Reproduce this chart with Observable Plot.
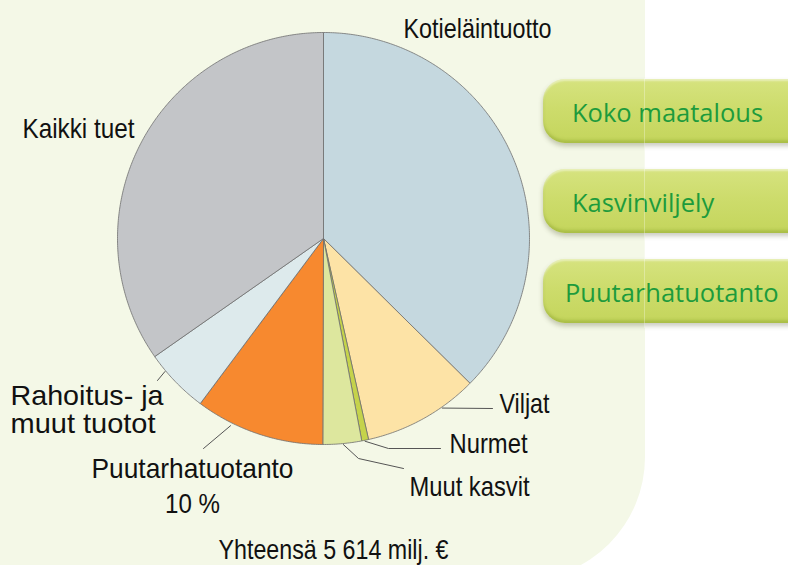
<!DOCTYPE html>
<html>
<head>
<meta charset="utf-8">
<script src="https://cdn.jsdelivr.net/npm/d3@7"></script>
<script src="https://cdn.jsdelivr.net/npm/@observablehq/plot@0.6"></script>
<style>
  html, body { margin: 0; padding: 0; background: #ffffff; }
  #wrap { position: relative; width: 788px; height: 565px; overflow: hidden; background: #ffffff; }
  #panel { position: absolute; left: 0; top: 0; width: 645px; height: 580px; background: #f4f8e7; border-bottom-right-radius: 123px; }
  .btn { position: absolute; left: 543px; width: 290px; height: 64px; border-radius: 22px;
         background: linear-gradient(#d6e37f 0%, #cddc6c 45%, #c4d55c 100%);
         box-shadow: 0 3px 5px rgba(60,70,20,0.28), inset 0 -3px 3px rgba(120,145,30,0.35), inset 0 2px 2px rgba(255,255,255,0.45);
         color: #1d9b3c; font-family: "Open Sans", "Noto Sans", sans-serif; font-size: 25.5px; white-space: nowrap; }
  .btn span { position: absolute; top: 0; line-height: 66px; }
  #chart { position: absolute; left: 0; top: 0; }
  #seam { position: absolute; left: 644px; top: 78px; width: 1px; height: 250px; background: rgba(255,255,255,0.3); }
</style>
</head>
<body>
<div id="wrap">
  <div id="panel"></div>
  <div class="btn" style="top:79px"><span style="left:29px">Koko maatalous</span></div>
  <div class="btn" style="top:169px"><span style="left:29px">Kasvinviljely</span></div>
  <div class="btn" style="top:259px"><span style="left:22px">Puutarhatuotanto</span></div>
  <div id="seam"></div>
  <div id="chart"></div>
</div>
<script>
// ---- data (milj. €), clockwise from 12 o'clock ----
const categories = ["Kotieläintuotto", "Viljat", "Nurmet", "Muut kasvit", "Puutarhatuotanto", "Rahoitus- ja muut tuotot", "Kaikki tuet"];
const values = [2100, 510, 30, 170, 570, 285, 1949];
const totalLabel = "Yhteensä 5 614 milj. €";
const puutarhaShare = "10 %";

// ---- styles ----
const sliceColors = ["#c5d8df", "#fde3a6", "#c5d34b", "#dde79e", "#f7892f", "#ddeaec", "#c3c5c8"];

// ---- layout (pixels) ----
const W = 788, H = 565;
const cx = 323, cy = 238, R = 206;
const font = "'Liberation Sans', Arial, sans-serif";
// rendered widths of the label lines (the reference uses a condensed face)
const textWidths = {
  "Kotieläintuotto": 148, "Kaikki tuet": 112, "Viljat": 50, "Nurmet": 78, "Muut kasvit": 120,
  "Yhteensä 5 614 milj. €": 230, "Rahoitus- ja": 153, "muut tuotot": 145, "Puutarhatuotanto": 202, "10 %": 55
};

const pie = d3.pie().sort(null).value(d => d.value)(categories.map((name, i) => ({name, value: values[i]})));
const pt = (a, r) => [cx + r * Math.sin(a), cy - r * Math.cos(a)];

// slice outlines: centre -> arc -> centre
const slicePts = [];
for (const s of pie) {
  const n = Math.max(2, Math.ceil((s.endAngle - s.startAngle) / (Math.PI / 360)));
  slicePts.push({name: s.data.name, x: cx, y: cy});
  for (let k = 0; k <= n; k++) {
    const a = s.startAngle + (s.endAngle - s.startAngle) * k / n;
    const [x, y] = pt(a, R);
    slicePts.push({name: s.data.name, x, y});
  }
  slicePts.push({name: s.data.name, x: cx, y: cy});
}

// leader lines: start on the pie edge at a given angle (deg), then elbows
const leaderSpec = [
  {name: "Viljat", deg: 145, r: 207, pts: [[492, 408]]},
  {name: "Nurmet", deg: 168.4, r: 207, pts: [[388, 448], [440, 448]]},
  {name: "Muut kasvit", deg: 174.5, r: 207, pts: [[358, 458], [403, 468]]},
  {name: "Puutarhatuotanto", deg: 206.4, r: 209, pts: [[203, 448]]},
  {name: "Rahoitus", deg: 230, r: 207, pts: [[157, 380]]}
];
const leaderPts = [];
for (const l of leaderSpec) {
  const [x0, y0] = pt(l.deg * Math.PI / 180, l.r);
  leaderPts.push({name: l.name, x: x0, y: y0});
  for (const [x, y] of l.pts) leaderPts.push({name: l.name, x, y});
}

const startLabels = [
  {text: categories[0], x: 403, y: 37},
  {text: categories[6], x: 22, y: 137},
  {text: categories[1], x: 499, y: 412},
  {text: categories[2], x: 449, y: 452},
  {text: categories[3], x: 409, y: 495}
];
const totalText = [{text: totalLabel, x: 333, y: 558}];
const rahoitusLabel = [{text: "Rahoitus- ja\nmuut tuotot", x: 10, y: 432}];
const puutarhaLabel = [{text: categories[4] + "\n" + puutarhaShare, x: 192, y: 512}];

const chart = Plot.plot({
  width: W, height: H, margin: 0,
  style: {background: "transparent", overflow: "visible"},
  x: {domain: [0, W], range: [0, W], axis: null},
  y: {domain: [0, H], range: [0, H], axis: null},
  color: {domain: categories, range: sliceColors},
  marks: [
    Plot.line(slicePts, {x: "x", y: "y", z: "name", fill: "name", stroke: "#6e6e6e", strokeWidth: 0.8, strokeLinejoin: "round", curve: "linear"}),
    Plot.line(leaderPts, {x: "x", y: "y", z: "name", stroke: "#555", strokeWidth: 1, curve: "linear"}),
    Plot.text(startLabels, {x: "x", y: "y", text: "text", textAnchor: "start", lineAnchor: "bottom", fontSize: 28, fontFamily: font, fill: "#111"}),
    Plot.text(totalText, {x: "x", y: "y", text: "text", textAnchor: "middle", lineAnchor: "bottom", fontSize: 28, fontFamily: font, fill: "#111"}),
    Plot.text(rahoitusLabel, {x: "x", y: "y", text: "text", textAnchor: "start", lineAnchor: "bottom", lineHeight: 0.97, fontSize: 28, fontFamily: font, fill: "#111"}),
    Plot.text(puutarhaLabel, {x: "x", y: "y", text: "text", textAnchor: "middle", lineAnchor: "bottom", lineHeight: 1.24, fontSize: 28, fontFamily: font, fill: "#111"})
  ]
});

// condense label glyphs to the reference widths
for (const t of chart.querySelectorAll("text")) {
  const spans = t.querySelectorAll("tspan");
  const targets = spans.length ? Array.from(spans) : [t];
  for (const el of targets) {
    const w = textWidths[el.textContent];
    if (w) { el.setAttribute("textLength", w); el.setAttribute("lengthAdjust", "spacingAndGlyphs"); }
  }
}
document.getElementById("chart").appendChild(chart);
</script>
</body>
</html>
